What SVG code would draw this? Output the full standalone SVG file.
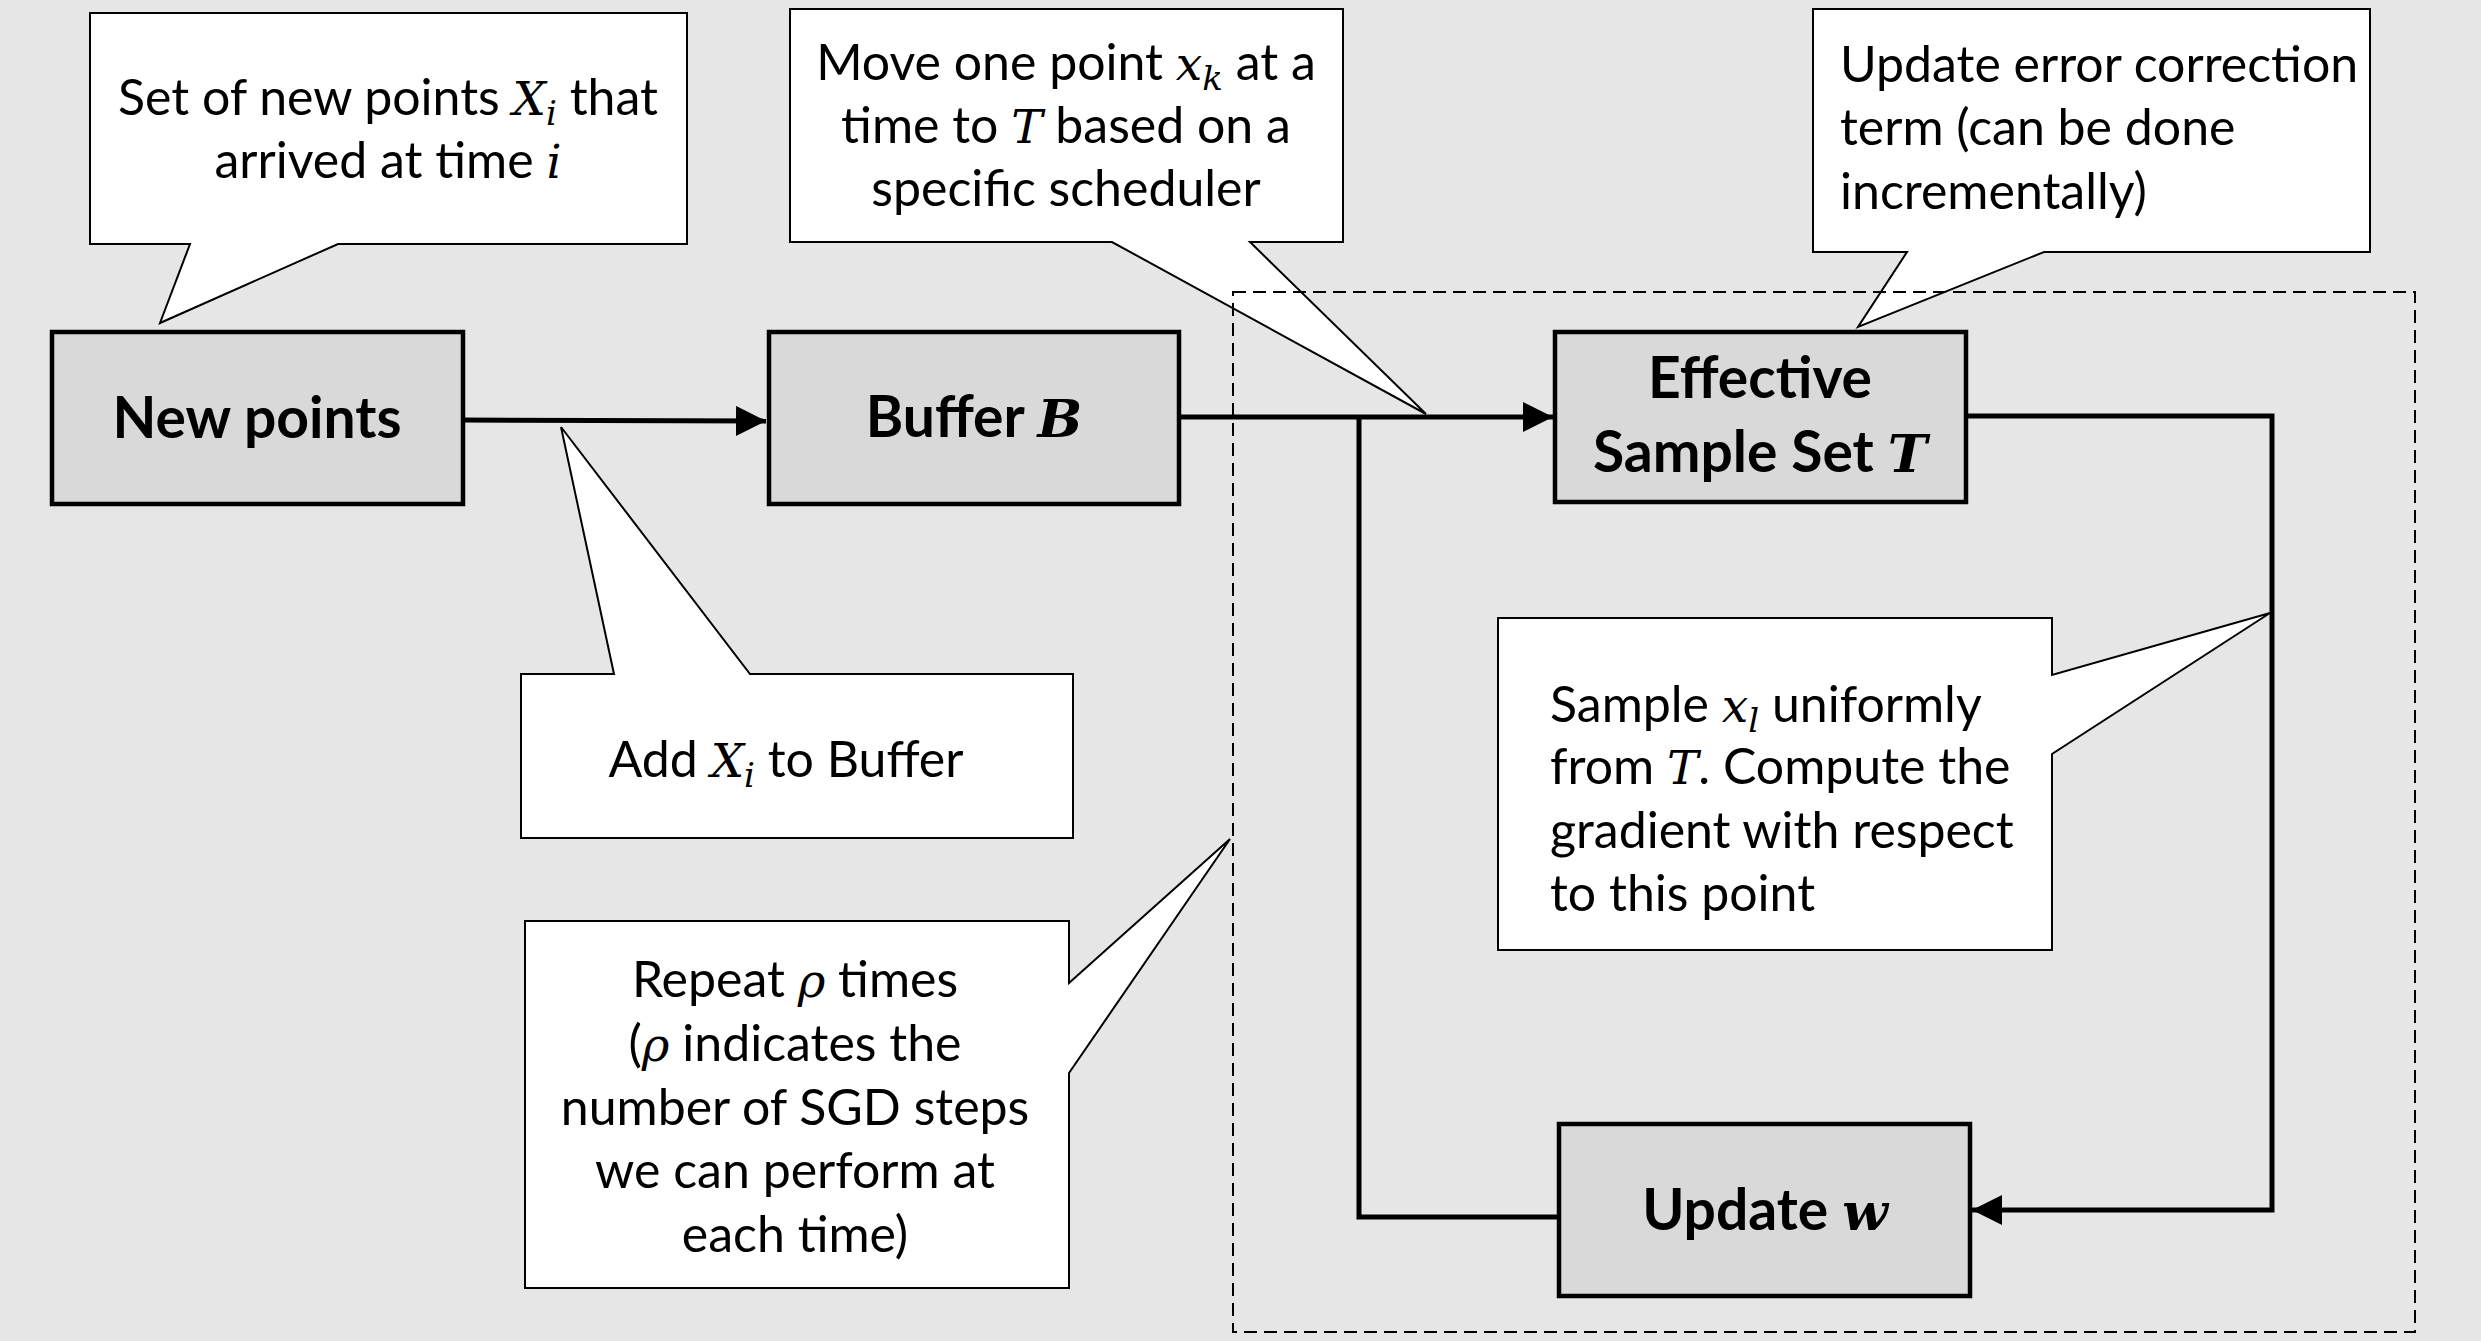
<svg xmlns="http://www.w3.org/2000/svg" width="2481" height="1341" viewBox="0 0 2481 1341">
  <style>
    .bg { fill: #e6e6e6; }
    .node { fill: #d9d9d9; stroke: #000; stroke-width: 4.5; }
    .callout { fill: #ffffff; stroke: #000; stroke-width: 2; stroke-linejoin: miter; }
    .wire { fill: none; stroke: #000; stroke-width: 5; }
    .scope { fill: none; stroke: #000; stroke-width: 2; stroke-dasharray: 13 7; }
    .t { font-family: Lato, "Liberation Sans", sans-serif; font-size: 50px; fill: #000; }
    .c { text-anchor: middle; }
    .b { font-family: Lato, "Liberation Sans", sans-serif; font-weight: bold; font-size: 57px; fill: #000; text-anchor: middle; }
    .m { font-family: "DejaVu Serif", "Liberation Serif", serif; font-style: italic; font-size: 47px; }
    .b .m { font-size: 53px; }
    .s { font-size: 34px; }
  </style>
  <defs>
    <marker id="arrow" markerUnits="userSpaceOnUse" markerWidth="32" markerHeight="30" refX="30" refY="15" orient="auto">
      <path d="M0,0 L30,15 L0,30 Z" fill="#000"/>
    </marker>
  </defs>

  <rect class="bg" x="0" y="0" width="2481" height="1341"/>

  <!-- connectors -->
  <g id="connectors">
    <path class="wire" d="M463,420 L766,421" marker-end="url(#arrow)"/>
    <path class="wire" d="M1179,417 L1553,417" marker-end="url(#arrow)"/>
    <path class="wire" d="M1359,417 L1359,1217 L1559,1217"/>
    <path class="wire" d="M1966,416 L2272,416 L2272,1210 L1972,1210" marker-end="url(#arrow)"/>
  </g>

  <!-- flow nodes -->
  <g id="node-new-points">
    <rect class="node" x="52" y="332" width="411" height="172"/>
    <text class="b" x="257" y="438">New points</text>
  </g>
  <g id="node-buffer">
    <rect class="node" x="769" y="332" width="410" height="172"/>
    <text class="b" x="974" y="437">Buffer <tspan class="m">B</tspan></text>
  </g>
  <g id="node-effective">
    <rect class="node" x="1555" y="332" width="411" height="170"/>
    <text class="b" x="1760" y="398">Effective</text>
    <text class="b" x="1760" y="472">Sample Set <tspan class="m">T</tspan></text>
  </g>
  <g id="node-update">
    <rect class="node" x="1559" y="1124" width="411" height="172"/>
    <text class="b" x="1765" y="1230">Update <tspan class="m">w</tspan></text>
  </g>

  <!-- annotations -->
  <g id="note-new-points">
    <path class="callout" d="M90,13 H687 V244 H338 L160,323 L190,244 H90 Z"/>
    <text class="t c" x="388" y="115">Set of new points <tspan class="m">X</tspan><tspan class="m s" dy="10">i</tspan><tspan dy="-10"> that</tspan></text>
    <text class="t c" x="388" y="178">arrived at time <tspan class="m">i</tspan></text>
  </g>
  <g id="note-move">
    <path class="callout" d="M790,9 H1343 V242 H1250 L1426,414 L1112,242 H790 Z"/>
    <text class="t c" x="1066" y="80">Move one point <tspan class="m">x</tspan><tspan class="m s" dy="10">k</tspan><tspan dy="-10"> at a</tspan></text>
    <text class="t c" x="1066" y="143">time to <tspan class="m">T</tspan> based on a</text>
    <text class="t c" x="1066" y="206">specific scheduler</text>
  </g>
  <g id="note-error">
    <path class="callout" d="M1813,9 H2370 V252 H2044 L1858,327 L1907,252 H1813 Z"/>
    <text class="t" x="1840" y="82">Update error correction</text>
    <text class="t" x="1840" y="145">term (can be done</text>
    <text class="t" x="1840" y="209">incrementally)</text>
  </g>
  <g id="note-add">
    <path class="callout" d="M521,674 H614 L561,427 L750,674 H1073 V838 H521 Z"/>
    <text class="t c" x="786" y="777">Add <tspan class="m">X</tspan><tspan class="m s" dy="10">i</tspan><tspan dy="-10"> to Buffer</tspan></text>
  </g>
  <g id="note-repeat">
    <path class="callout" d="M525,921 H1069 V983 L1230,839 L1069,1073 V1288 H525 Z"/>
    <text class="t c" x="795" y="997">Repeat <tspan class="m">ρ</tspan> times</text>
    <text class="t c" x="795" y="1061">(<tspan class="m">ρ</tspan> indicates the</text>
    <text class="t c" x="795" y="1125">number of SGD steps</text>
    <text class="t c" x="795" y="1188">we can perform at</text>
    <text class="t c" x="795" y="1252">each time)</text>
  </g>
  <g id="note-sample">
    <path class="callout" d="M1498,618 H2052 V675 L2270,613 L2052,754 V950 H1498 Z"/>
    <text class="t" x="1550" y="722">Sample <tspan class="m">x</tspan><tspan class="m s" dy="10">l</tspan><tspan dy="-10"> uniformly</tspan></text>
    <text class="t" x="1550" y="784">from <tspan class="m">T</tspan>. Compute the</text>
    <text class="t" x="1550" y="848">gradient with respect</text>
    <text class="t" x="1550" y="911">to this point</text>
  </g>

  <!-- inner loop scope -->
  <rect id="loop-scope" class="scope" x="1233" y="292" width="1182" height="1040"/>
</svg>
